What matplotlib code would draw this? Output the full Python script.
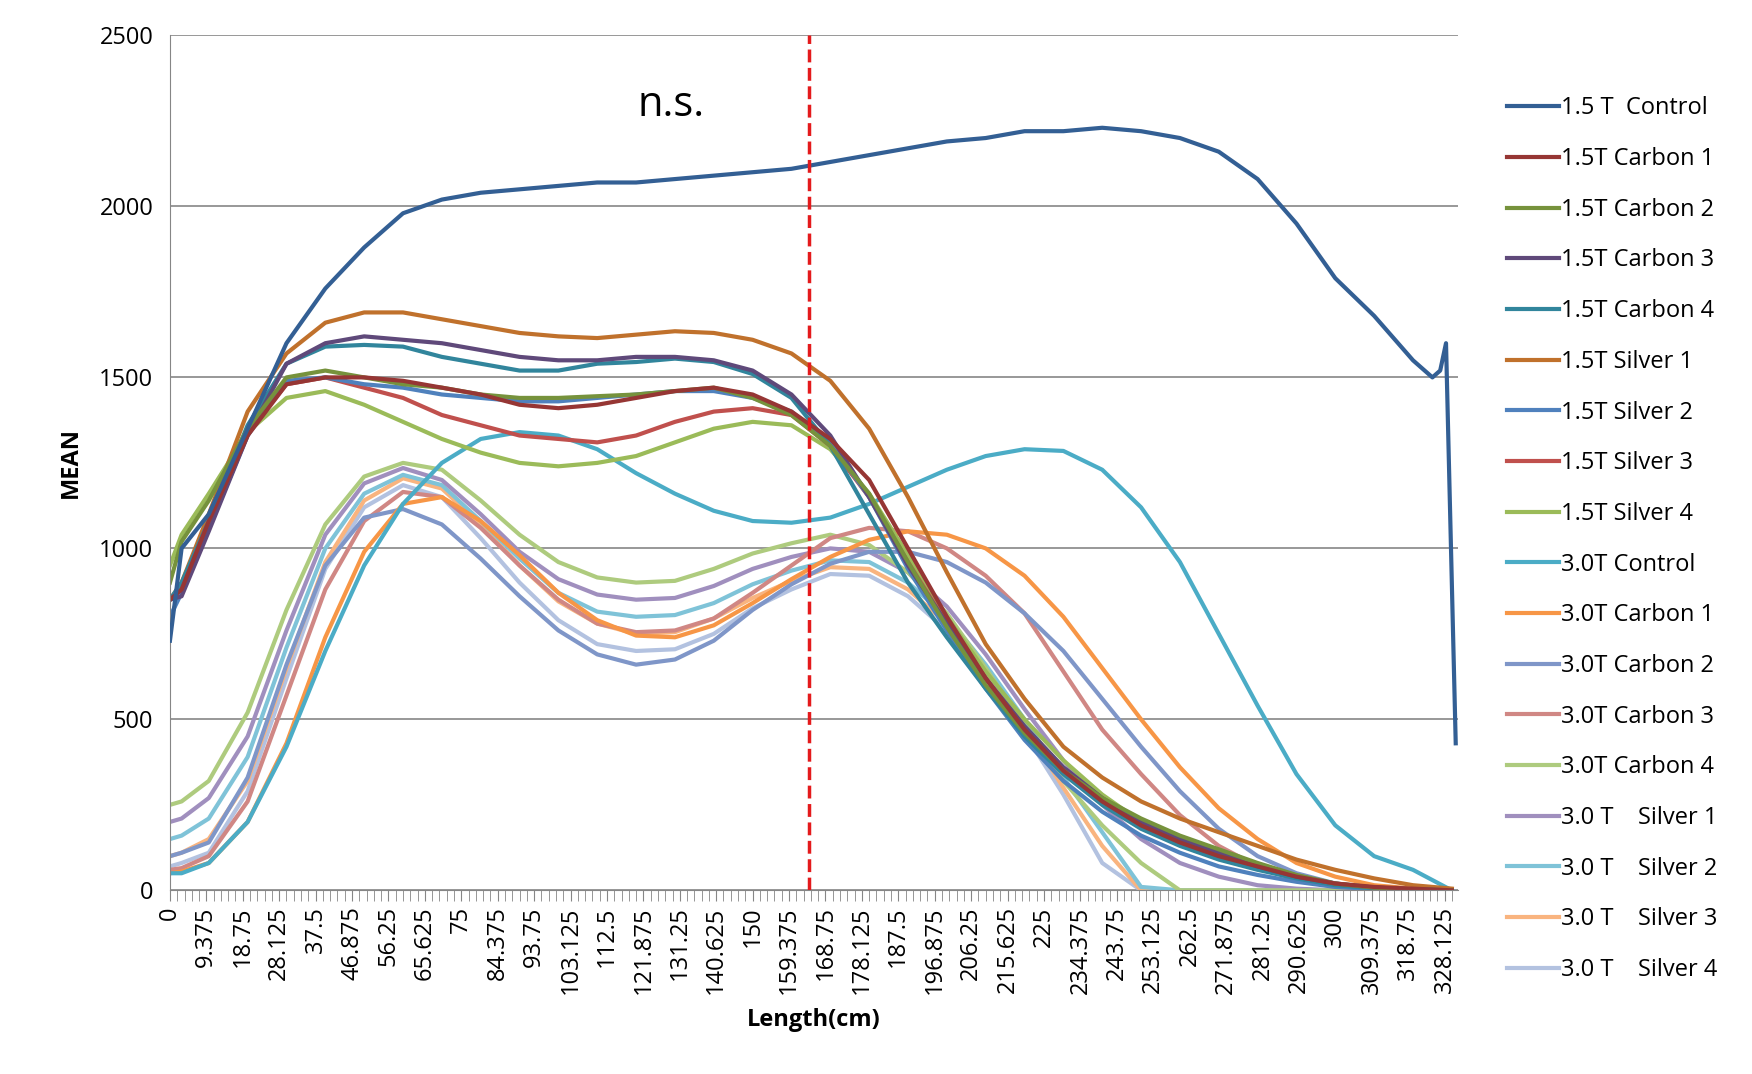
import numpy as np
import matplotlib.pyplot as plt

plt.rcParams['font.family'] = ['Open Sans', 'DejaVu Sans']

# x knots (cm)
xs = [0, 3, 10, 20, 30, 40, 50, 60, 70, 80, 90, 100, 110, 120, 130, 140, 150, 160,
      170, 180, 190, 200, 210, 220, 230, 240, 250, 260, 270, 280, 290, 300, 310, 320, 330]
x_ctrl15 = xs[:-1] + [325, 327, 328.5, 331]

names = ['1.5 T  Control', '1.5T Carbon 1', '1.5T Carbon 2', '1.5T Carbon 3', '1.5T Carbon 4',
         '1.5T Silver 1', '1.5T Silver 2', '1.5T Silver 3', '1.5T Silver 4', '3.0T Control',
         '3.0T Carbon 1', '3.0T Carbon 2', '3.0T Carbon 3', '3.0T Carbon 4',
         '3.0 T    Silver 1', '3.0 T    Silver 2', '3.0 T    Silver 3', '3.0 T    Silver 4']
colors = ['#335f94', '#963634', '#76923c', '#5f497a', '#31859c', '#c0712c', '#4f81bd', '#c0504d',
          '#9bbb59', '#4bacc6', '#f79646', '#7f96c8', '#d08784', '#aecb7e', '#a08fbe', '#7fc3d8',
          '#f9b47f', '#b3c2e0']

c15_ctrl = [730, 1000, 1100, 1350, 1600, 1760, 1880, 1980, 2020, 2040, 2050, 2060, 2070, 2070, 2080,
            2090, 2100, 2110, 2130, 2150, 2170, 2190, 2200, 2220, 2220, 2230, 2220, 2200, 2160, 2080,
            1950, 1790, 1680, 1550, 1500, 1520, 1600, 430]
c15_car1 = [850, 880, 1080, 1330, 1480, 1500, 1500, 1490, 1470, 1450, 1420, 1410, 1420, 1440, 1460,
            1470, 1450, 1400, 1320, 1200, 1000, 800, 620, 470, 350, 260, 190, 140, 100, 70, 40, 20, 10, 5, 0]
c15_car2 = [900, 1020, 1140, 1350, 1500, 1520, 1500, 1480, 1470, 1450, 1440, 1440, 1445, 1450, 1460,
            1470, 1440, 1390, 1300, 1160, 960, 770, 600, 460, 350, 270, 210, 160, 120, 80, 45, 20, 8, 3, 0]
c15_car3 = [850, 860, 1050, 1330, 1540, 1600, 1620, 1610, 1600, 1580, 1560, 1550, 1550, 1560, 1560,
            1550, 1520, 1450, 1330, 1150, 950, 780, 620, 480, 360, 270, 200, 150, 110, 70, 40, 20, 8, 3, 0]
c15_car4 = [850, 900, 1080, 1360, 1540, 1590, 1595, 1590, 1560, 1540, 1520, 1520, 1540, 1545, 1555,
            1545, 1510, 1440, 1300, 1100, 900, 740, 590, 450, 340, 250, 180, 130, 90, 60, 35, 15, 6, 2, 0]
c15_sil1 = [850, 900, 1100, 1400, 1570, 1660, 1690, 1690, 1670, 1650, 1630, 1620, 1615, 1625, 1635,
            1630, 1610, 1570, 1490, 1350, 1150, 930, 720, 560, 420, 330, 260, 210, 170, 130, 90, 60, 35, 15, 5]
c15_sil2 = [800, 870, 1060, 1330, 1490, 1500, 1480, 1470, 1450, 1440, 1430, 1430, 1440, 1450, 1460,
            1460, 1440, 1400, 1310, 1150, 940, 760, 590, 440, 320, 230, 160, 110, 70, 45, 25, 10, 4, 1, 0]
c15_sil3 = [850, 880, 1070, 1340, 1480, 1500, 1470, 1440, 1390, 1360, 1330, 1320, 1310, 1330, 1370,
            1400, 1410, 1390, 1300, 1150, 960, 780, 620, 470, 350, 260, 190, 140, 100, 65, 35, 15, 6, 2, 0]
c15_sil4 = [950, 1040, 1160, 1340, 1440, 1460, 1420, 1370, 1320, 1280, 1250, 1240, 1250, 1270, 1310,
            1350, 1370, 1360, 1290, 1160, 980, 800, 640, 500, 380, 280, 200, 140, 100, 65, 35, 15, 5, 2, 0]
c30_ctrl = [50, 50, 80, 200, 420, 700, 950, 1130, 1250, 1320, 1340, 1330, 1290, 1220, 1160, 1110,
            1080, 1075, 1090, 1130, 1180, 1230, 1270, 1290, 1285, 1230, 1120, 960, 750, 540, 340, 190,
            100, 60, 0]
c30_car1 = [50, 55, 80, 200, 430, 740, 990, 1130, 1150, 1080, 980, 870, 790, 745, 740, 775, 840, 910,
            975, 1025, 1050, 1040, 1000, 920, 800, 650, 500, 360, 240, 150, 80, 40, 15, 5, 0]
c30_car2 = [100, 110, 140, 330, 660, 950, 1090, 1115, 1070, 970, 860, 760, 690, 660, 675, 730, 820,
            895, 955, 990, 990, 960, 900, 810, 700, 560, 420, 290, 180, 100, 50, 20, 5, 0, 0]
c30_car3 = [60, 65, 100, 260, 570, 880, 1080, 1165, 1150, 1060, 950, 850, 780, 755, 760, 795, 870,
            950, 1030, 1060, 1050, 1000, 920, 810, 640, 470, 340, 220, 130, 70, 30, 10, 3, 0, 0]
c30_car4 = [250, 260, 320, 520, 820, 1070, 1210, 1250, 1230, 1140, 1040, 960, 915, 900, 905, 940, 985,
            1015, 1040, 1010, 930, 810, 650, 480, 320, 190, 80, 0, 0, 0, 0, 0, 0, 0, 0]
c30_sil1 = [200, 210, 270, 450, 760, 1040, 1190, 1235, 1200, 1100, 990, 910, 865, 850, 855, 890, 940,
            975, 1000, 990, 930, 830, 690, 530, 380, 250, 150, 80, 40, 15, 5, 0, 0, 0, 0]
c30_sil2 = [150, 160, 210, 390, 710, 1000, 1160, 1215, 1185, 1080, 970, 870, 815, 800, 805, 840, 895,
            935, 965, 960, 900, 800, 660, 500, 330, 170, 10, 0, 0, 0, 0, 0, 0, 0, 0]
c30_sil3 = [100, 110, 150, 320, 650, 960, 1140, 1205, 1175, 1070, 950, 845, 780, 750, 755, 795, 855,
            905, 945, 940, 880, 780, 640, 480, 300, 130, 0, 0, 0, 0, 0, 0, 0, 0, 0]
c30_sil4 = [70, 80, 110, 290, 620, 940, 1120, 1185, 1150, 1030, 900, 790, 720, 700, 705, 750, 825,
            880, 925, 920, 860, 760, 620, 460, 280, 80, 0, 0, 0, 0, 0, 0, 0, 0, 0]

series = [c15_ctrl, c15_car1, c15_car2, c15_car3, c15_car4, c15_sil1, c15_sil2, c15_sil3, c15_sil4,
          c30_ctrl, c30_car1, c30_car2, c30_car3, c30_car4, c30_sil1, c30_sil2, c30_sil3, c30_sil4]

fig = plt.figure(figsize=(17.52, 10.74), dpi=100)
ax = fig.add_axes([0.097, 0.171, 0.735, 0.796])

# draw 3.0T first, then 1.5T, control on top
order = list(range(17, 0, -1)) + [0]
for i in order:
    x = x_ctrl15 if i == 0 else xs
    ax.plot(x, series[i], color=colors[i], lw=3, label=names[i], zorder=3 if i == 0 else 2)

ax.axvline(164.5, color='#e41a1c', ls='--', lw=2.5, zorder=4)
ax.text(129, 2265, 'n.s.', fontsize=30, ha='center')

ax.set_xlim(0, 331.5)
ax.set_ylim(0, 2500)
ax.set_yticks([0, 500, 1000, 1500, 2000, 2500])
ticks = np.arange(0, 331, 9.375)
ax.set_xticks(ticks)
ax.set_xticklabels([('%g' % t) for t in ticks], rotation=90, fontsize=17)
ax.set_xticks(np.arange(0, 331, 1.875), minor=True)
ax.tick_params(axis='y', labelsize=17, length=0, pad=12)
ax.tick_params(axis='x', which='major', length=8, color='#868686')
ax.tick_params(axis='x', which='minor', length=8, color='#868686')
ax.yaxis.grid(True, color='#868686', lw=1.2)
ax.set_axisbelow(True)
for s in ['top', 'right']:
    ax.spines[s].set_visible(False)
ax.spines['left'].set_color('#868686')
ax.spines['bottom'].set_color('#868686')
ax.set_xlabel('Length(cm)', fontsize=17, fontweight='bold', labelpad=10)
ax.set_ylabel('MEAN', fontsize=17, fontweight='bold', labelpad=12)

handles, labels = ax.get_legend_handles_labels()
lk = dict(zip(labels, handles))
fig.legend([lk[n] for n in names], names, loc='upper left', bbox_to_anchor=(0.848, 0.93),
           frameon=False, fontsize=17, labelspacing=1.13, handlelength=2.2, handletextpad=0.1)

fig.savefig('out.png', dpi=100)
